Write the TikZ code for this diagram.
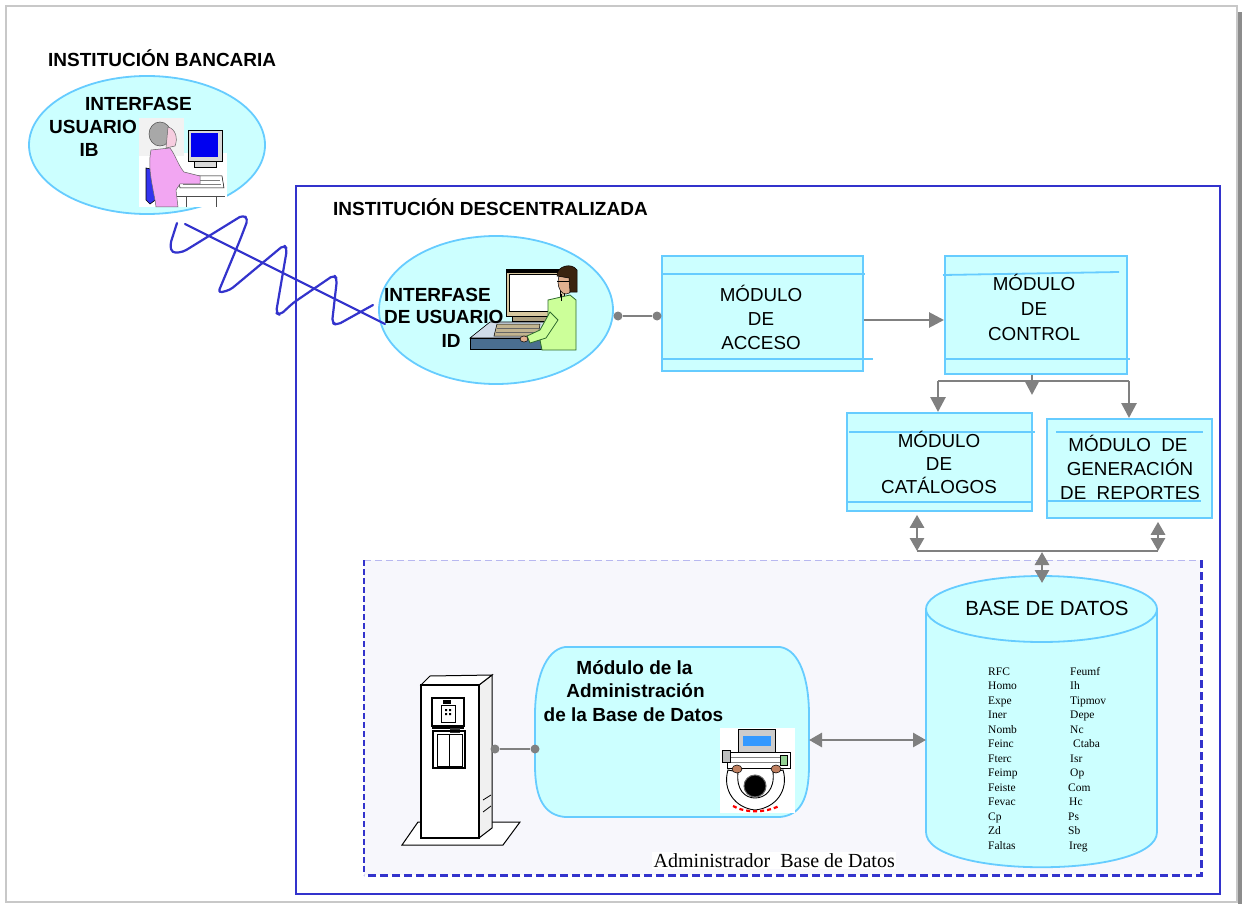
\documentclass[tikz,border=0pt]{standalone}
\usepackage{fontspec}
\setmainfont{Liberation Sans}
\newfontfamily\romanfont{Liberation Serif}
\usetikzlibrary{arrows.meta,shapes.geometric}

\definecolor{cyanfill}{HTML}{CCFFFF}
\definecolor{cyanline}{HTML}{66CCFF}
\definecolor{linkgray}{HTML}{808080}
\definecolor{frameblue}{HTML}{3333CC}
\definecolor{zonefill}{HTML}{F7F7FC}
\definecolor{zonetop}{HTML}{B8B8F0}
\definecolor{pagegray}{HTML}{C8C8C8}
\definecolor{shadowgray}{HTML}{8C8C8C}
\definecolor{shirtpink}{HTML}{F2A6F2}
\definecolor{hairgray}{HTML}{A8A8A8}
\definecolor{skinpink}{HTML}{F6CDE0}
\definecolor{chairblue}{HTML}{3333EE}
\definecolor{screenblue}{HTML}{0000F0}
\definecolor{beige}{HTML}{D8C8A0}
\definecolor{deskblue}{HTML}{4A6E90}
\definecolor{desktop}{HTML}{D0DCE8}
\definecolor{shirtgreen}{HTML}{CCFF99}
\definecolor{darkgreen}{HTML}{2E6B2E}
\definecolor{skin}{HTML}{E0B090}
\definecolor{hairbrown}{HTML}{3A2410}
\definecolor{lightscreen}{HTML}{3399FF}
\definecolor{handbrown}{HTML}{C08060}

\begin{document}
\begin{tikzpicture}[x=1pt,y=-1pt,
  modbox/.style={draw=cyanline, fill=cyanfill, line width=1.8pt, inner sep=0pt, anchor=north west},
  modrule/.style={draw=cyanline, line width=1.8pt},
  modtxt/.style={font=\fontsize{18.8}{22}\selectfont, inner sep=0pt, anchor=base},
  headtxt/.style={font=\bfseries\fontsize{19}{22}\selectfont, inner sep=0pt},
  bubble/.style={ellipse, draw=cyanline, fill=cyanfill, line width=1.8pt, inner sep=0pt},
  link/.style={draw=linkgray, line width=2.8pt},
  tip/.style={-{Triangle[length=15pt,width=15pt]}},
  twotip/.style={{Triangle[length=13pt,width=14pt]}-{Triangle[length=13pt,width=14pt]}},
  linkdot/.style={circle, fill=linkgray, inner sep=0pt, minimum size=9pt},
  fieldtxt/.style={font=\romanfont\fontsize{11.5}{13}\selectfont, inner sep=0pt, anchor=base west},
  ink/.style={draw=black, line width=0.7pt},
  wave/.style={draw=frameblue, line width=2.2pt, line join=round, line cap=round},
]
\useasboundingbox (0,0) rectangle (1242,904);

% page frame with its shadow
\fill[white] (0,0) rectangle (1242,904);
\draw[pagegray, line width=2pt] (6,6) rectangle (1237,902);
\fill[shadowgray] (1238,12) rectangle (1242,904);

% ---------------- bank side ----------------
\node[headtxt, anchor=base west] (bank) at (48,67) {INSTITUCIÓN BANCARIA};
\node[bubble, minimum width=236pt, minimum height=138pt] (ib) at (147,145) {};

% clerk at a computer
\begin{scope}
  \fill[white] (139,153) rectangle (227,207);
  \fill[black!5] (139,118) rectangle (184,156);
  \filldraw[fill=black!15, ink, line width=0.6pt] (188,130) rectangle (222,161);
  \fill[screenblue] (191,133) rectangle (218,157);
  \filldraw[fill=black!15, ink, line width=0.5pt] (194,161) rectangle (216,167);
  \filldraw[fill=white, ink, line width=0.5pt] (178,176) -- (222,176) -- (224,188) -- (180,188) -- cycle;
  \draw[black!50] (182,180) -- (220,180) (183,184) -- (221,184);
  \draw[black!70, line width=0.6pt] (175,196) -- (225,196) (186,196) -- (186,207) (216,196) -- (216,207);
  \filldraw[fill=chairblue, ink, line width=0.6pt] (146,168) -- (155,170) -- (158,198) -- (150,204) -- (146,200) -- cycle;
  \filldraw[fill=shirtpink, draw=black!60, line width=0.5pt] (151,150) -- (170,148) .. controls (176,156) and (178,165) .. (184,172) -- (200,176) -- (200,184) -- (180,184) -- (176,190) -- (178,207) -- (156,207) .. controls (154,190) and (147,170) .. (151,150) -- cycle;
  \filldraw[fill=hairgray, draw=black!70, line width=0.5pt] (160,134) ellipse (11 and 12);
  \filldraw[fill=skinpink, draw=black!60, line width=0.5pt] (168,127) .. controls (176,129) and (178,139) .. (175,146) -- (166,148) -- cycle;
\end{scope}

\node[headtxt, anchor=base] (ib-l1) at (138.5,111) {INTERFASE};
\node[headtxt, anchor=base west] (ib-l2) at (49,134) {USUARIO};
\node[headtxt, anchor=base] (ib-l3) at (89,157) {IB};

% ---------------- decentralised institution ----------------
\draw[frameblue, line width=1.5pt] (296,186) rectangle (1220,894);
\node[headtxt, anchor=base west] (inst) at (333,215) {INSTITUCIÓN DESCENTRALIZADA};

% database administration zone
\fill[zonefill] (364,560) rectangle (1201,875);
\draw[zonetop, line width=1pt, dash pattern=on 7pt off 4pt] (364,560) -- (1201,560);
\draw[frameblue, line width=1.5pt, dash pattern=on 6pt off 3pt] (364,560) -- (364,875);
\draw[frameblue, line width=3pt, dash pattern=on 8pt off 4pt] (1201,560) -- (1201,875) -- (364,875);

% user interface bubble
\node[bubble, minimum width=234pt, minimum height=148pt] (id) at (496,310) {};
\begin{scope}
  \filldraw[fill=beige, ink, line width=0.8pt] (506,270) rectangle (564,316);
  \filldraw[fill=white, ink, line width=0.6pt] (509,274) rectangle (560,311);
  \fill[black] (506,269) rectangle (564,273);
  \filldraw[fill=beige!80!black, ink, line width=0.5pt] (512,316) rectangle (556,321);
  \filldraw[fill=desktop, ink, line width=0.6pt] (470,338) -- (490,322) -- (548,322) -- (548,338) -- cycle;
  \filldraw[fill=deskblue, ink, line width=0.6pt] (470,338) rectangle (563,349);
  \filldraw[fill=beige!90!black, ink, line width=0.5pt] (497,324) -- (540,324) -- (538,336) -- (494,336) -- cycle;
  \draw[black!60] (497,328) -- (539,328) (496,332) -- (539,332);
  \filldraw[fill=shirtgreen, draw=darkgreen, line width=0.8pt] (548,300) -- (570,295) -- (576,300) -- (576,350) -- (542,350) -- (540,340) -- (548,330) -- cycle;
  \filldraw[fill=shirtgreen, draw=darkgreen, line width=0.8pt] (550,312) -- (540,330) -- (527,336) -- (530,343) -- (546,338) -- (558,320) -- cycle;
  \filldraw[fill=skin, ink, line width=0.5pt] (524,339) ellipse (4 and 3);
  \filldraw[fill=skin, ink, line width=0.5pt] (566,282) ellipse (8 and 12);
  \filldraw[fill=hairbrown, draw=black, line width=0.5pt] (557,276) .. controls (556,266) and (572,262) .. (577,270) -- (577,292) -- (570,292) -- (569,278) -- cycle;
  \draw[black, line width=0.8pt] (557,281) -- (569,281);
  \draw[black, line width=0.6pt] (561,294) -- (561,301);
\end{scope}
\node[headtxt, anchor=base west] (id-l1) at (384,301) {INTERFASE};
\node[headtxt, anchor=base west] (id-l2) at (384,323) {DE USUARIO};
\node[headtxt, anchor=base] (id-l3) at (451,347) {ID};

% radio link between the two interfaces
\coordinate (wavefrom) at (177,223);
\coordinate (waveto) at (373,305);
\draw[wave, rounded corners=4pt] (wavefrom) -- (170,245) -- (172,253) -- (183,252) -- (243,215) -- (248,219) -- (240,240) -- (218,293) -- (230,290) -- (284,245) -- (287,249) -- (276,313) -- (280,315) -- (293,303) -- (334,275) -- (337,279) -- (332,323) -- (337,325) -- (waveto);
\coordinate (beamfrom) at (185,224);
\coordinate (beamto) at (385,324);
\draw[wave] (beamfrom) -- (beamto);

% access module
\node[modbox, minimum width=201pt, minimum height=115pt] (acc) at (661,255) {};
\draw[modrule] (661,274) -- (865,274);
\draw[modrule] (661,359) -- (873,359);
\foreach \w [count=\i] in {MÓDULO,DE,ACCESO}
  \node[modtxt] (acc-l\i) at (761,{301+24*(\i-1)}) {\w};

% control module
\node[modbox, minimum width=182pt, minimum height=118pt] (ctl) at (944,255) {};
\draw[modrule] (943,275) -- (1119,272);
\draw[modrule] (944,359) -- (1130,359);
\foreach \w [count=\i] in {MÓDULO,DE,CONTROL}
  \node[modtxt] (ctl-l\i) at (1034,{290+25*(\i-1)}) {\w};

% catalogue module
\node[modbox, minimum width=185pt, minimum height=98pt] (cat) at (846,412) {};
\draw[modrule] (849,432) -- (1035,432);
\draw[modrule] (846,502) -- (1033,502);
\foreach \w [count=\i] in {MÓDULO,DE,CATÁLOGOS}
  \node[modtxt] (cat-l\i) at (939,{447+23*(\i-1)}) {\w};

% report module
\node[modbox, minimum width=165pt, minimum height=99pt] (rep) at (1046,418) {};
\draw[modrule] (1056,432) -- (1203,432);
\draw[modrule] (1047,501) -- (1201,501);
\node[modtxt] (rep-l1) at (1128,451) {MÓDULO\ \ DE};
\node[modtxt] (rep-l2) at (1130,475) {GENERACIÓN};
\node[modtxt] (rep-l3) at (1130,499) {DE\ \ REPORTES};

% links between the modules
\node[linkdot] (dotid) at (618,316) {};
\node[linkdot] (dotacc) at (657,316) {};
\draw[link] (dotid) -- (dotacc);
\draw[link, tip] (acc.east |- 0,320) -- (ctl.west |- 0,320);
\coordinate (busL) at (938,381);
\coordinate (busR) at (1129,381);
\draw[link] (busL) -- (busR);
\draw[link, tip] (ctl.south -| 1032,0) -- (1032,395);
\draw[link, tip] (busL) -- (cat.north -| busL);
\draw[link, tip] (busR) -- (rep.north -| busR);

% database cylinder
\begin{scope}
  \filldraw[fill=cyanfill, draw=cyanline, line width=1.8pt] (926,609) -- (926,832) .. controls (926,879) and (1157,879) .. (1157,832) -- (1157,609);
  \filldraw[fill=cyanfill, draw=cyanline, line width=1.8pt] (1041.5,609) ellipse (115.5 and 33);
\end{scope}
\coordinate (dbtop) at (1042,583);
\coordinate (dbwest) at (926,740);
\node[anchor=base, inner sep=0pt, font=\fontsize{20.5}{24}\selectfont] (dbname) at (1047,615) {BASE DE DATOS};

\foreach \f [count=\i] in {RFC,Homo,Expe,Iner,Nomb,Feinc,Fterc,Feimp,Feiste,Fevac,Cp,Zd,Faltas}
  \node[fieldtxt] (fa\i) at (988,{675+14.5*(\i-1)}) {\f};
\foreach \f/\dx [count=\i] in {Feumf/0,Ih/0,Tipmov/0,Depe/0,Nc/0,Ctaba/3,Isr/0,Op/0,Com/-2,Hc/-1,Ps/-2,Sb/-2,Ireg/-1}
  \node[fieldtxt] (fb\i) at ({1070+\dx},{675+14.5*(\i-1)}) {\f};

% bus between the modules and the database
\coordinate (dbbusL) at (917,551);
\coordinate (dbbusR) at (1158,551);
\draw[link] (dbbusL) -- (dbbusR);
\draw[link, twotip] (cat.south -| dbbusL) ++(0,3) -- (dbbusL);
\draw[link, twotip] (rep.south -| dbbusR) ++(0,3) -- (dbbusR);
\draw[link, twotip] (1042,552) -- (dbtop);

% database administration module
\draw[fill=cyanfill, draw=cyanline, line width=1.8pt]
  (565,647) -- (780,647) .. controls (800,650) and (809,680) .. (809,715)
  -- (809,765) .. controls (809,800) and (800,815) .. (780,817)
  -- (565,817) .. controls (545,815) and (535,800) .. (535,765)
  -- (535,715) .. controls (535,680) and (545,650) .. (565,647) -- cycle;
\coordinate (admwest) at (535,749);
\coordinate (admeast) at (809,740);
\node[headtxt, anchor=base] (adm-l1) at (634.5,674) {Módulo de la};
\node[headtxt, anchor=base] (adm-l2) at (635.5,697) {Administración};
\node[headtxt, anchor=base] (adm-l3) at (633.5,721) {de la Base de Datos};

% administrator at the console, seen from above
\begin{scope}
  \fill[white] (720,728) rectangle (795,813);
  \filldraw[fill=black!20, ink] (738,729) rectangle (775,752);
  \fill[lightscreen] (743,736) rectangle (771,746);
  \filldraw[fill=white, ink] (727,752) rectangle (790,768);
  \draw[black!50] (731,757) -- (786,757) (731,762) -- (786,762);
  \filldraw[fill=black!25, ink] (722,750) rectangle (730,762);
  \filldraw[fill=green!40!gray!60, ink] (780,755) rectangle (787,765);
  \filldraw[fill=white, ink, line width=0.9pt] (728,770) .. controls (722,790) and (735,808) .. (755,810) .. controls (776,808) and (789,790) .. (783,770) -- (773,772) .. controls (775,790) and (765,798) .. (755,798) .. controls (745,798) and (736,790) .. (738,772) -- cycle;
  \filldraw[fill=handbrown, ink, line width=0.5pt] (737,769) ellipse (5 and 4);
  \filldraw[fill=handbrown, ink, line width=0.5pt] (776,769) ellipse (5 and 4);
  \filldraw[fill=black, draw=black!60, line width=1pt] (755,786) ellipse (11 and 11);
  \draw[red, line width=2.2pt, dash pattern=on 4pt off 3pt] (733,806) .. controls (745,813) and (765,813) .. (779,806);
\end{scope}

% server cabinet
\begin{scope}
  \filldraw[fill=white, draw=black, line width=1pt] (402,845) -- (503,845) -- (520,822) -- (418,822) -- cycle;
  \filldraw[fill=black!6, draw=black, line width=1pt] (479,685) -- (492,675) -- (492,828) -- (479,838) -- cycle;
  \filldraw[fill=white, draw=black, line width=1pt] (421,685) -- (430,676) -- (492,675) -- (479,685) -- cycle;
  \filldraw[fill=white, draw=black, line width=2.5pt] (421,685) rectangle (479,838);
  \draw[black, line width=1.2pt] (432,698) rectangle (464,726);
  \draw[black, line width=0.8pt] (441,705) rectangle (455,722);
  \fill[black] (443,700) rectangle (451,704);
  \fill[black] (445,709) rectangle (447,711) (449,709) rectangle (451,711) (445,713) rectangle (447,715) (449,713) rectangle (451,715);
  \fill[black] (432,726) rectangle (464,729);
  \fill[black!80] (450,728) rectangle (460,733);
  \draw[black, line width=1.2pt] (433,731) rectangle (465,768);
  \draw[black, line width=0.6pt] (437,734) rectangle (462,766) (449,734) -- (449,766);
  \draw[black, line width=0.8pt] (483,800) -- (491,795) (483,812) -- (491,806);
\end{scope}
\coordinate (srveast) at (495,749);

\node[linkdot] (dotsrv) at (srveast) {};
\node[linkdot] (dotadm) at (admwest) {};
\draw[link] (dotsrv) -- (dotadm);
\draw[link, twotip] (admeast) -- (dbwest);

\node[anchor=base west, fill=white, inner sep=1.5pt, font=\romanfont\fontsize{20}{24}\selectfont] (admin) at (652,867) {Administrador\ \ Base de Datos};

\end{tikzpicture}
\end{document}
